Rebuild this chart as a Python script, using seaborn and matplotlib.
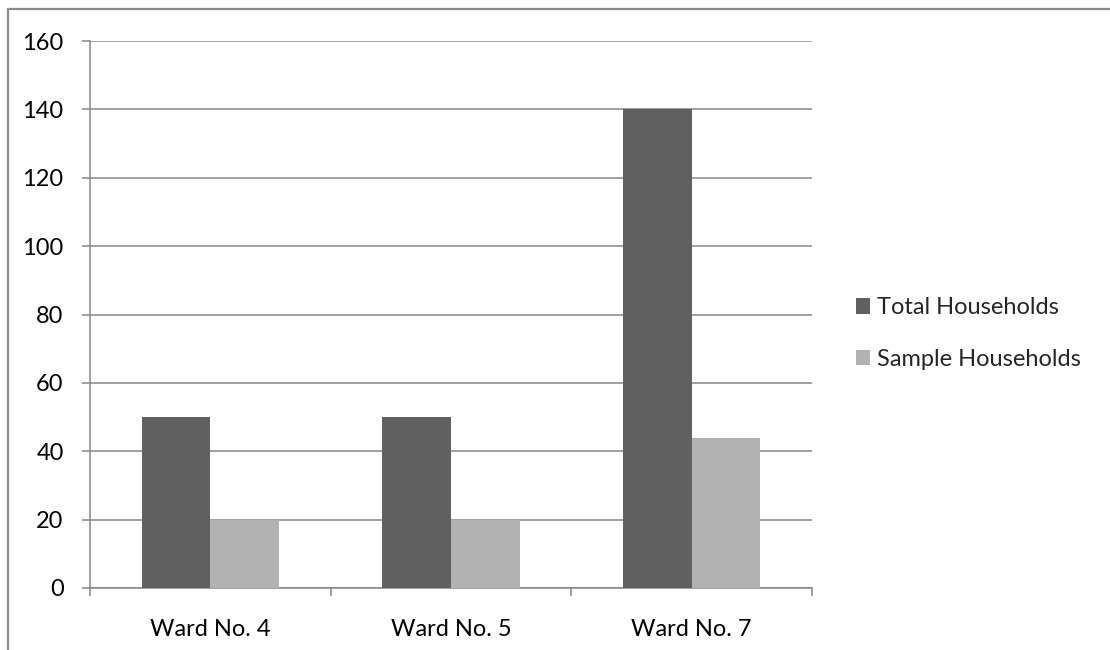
import matplotlib
matplotlib.use("Agg")
import matplotlib.pyplot as plt
from matplotlib.lines import Line2D
import seaborn as sns
import pandas as pd

wards = ["Ward No. 4", "Ward No. 5", "Ward No. 7"]
total_households = [50, 50, 140]
sample_households = [20, 20, 44]
series_names = ["Total Households", "Sample Households"]
y_ticks = [0, 20, 40, 60, 80, 100, 120, 140, 160]

df = pd.DataFrame({
    "ward": wards * 2,
    "series": [series_names[0]] * 3 + [series_names[1]] * 3,
    "value": total_households + sample_households,
})

sns.set_style("white")
plt.rcParams["font.family"] = ["Lato", "DejaVu Sans"]

fs = 17

fig = plt.figure(figsize=(11.1, 6.5), dpi=100)
ax = fig.add_axes([0.0811, 0.0954, 0.6504, 0.8415])

palette = {series_names[0]: "#606060", series_names[1]: "#b2b2b2"}
sns.barplot(data=df, x="ward", y="value", hue="series", palette=palette,
            width=0.57, saturation=1, ax=ax, zorder=3, linewidth=0)

grid_c = "#868686"
ax.set_ylim(0, 160)
ax.set_yticks(y_ticks)
ax.yaxis.grid(True, color=grid_c, linewidth=1.1, zorder=0)
ax.tick_params(axis="y", left=True, length=6, color=grid_c, width=1.1,
               labelsize=fs, pad=13, labelcolor="black")

# category boundaries carry the tick marks; labels sit at category centres
ax.set_xlim(-0.5, 2.5)
ax.set_xticks([-0.5, 0.5, 1.5, 2.5])
ax.set_xticklabels([])
ax.set_xticks([0, 1, 2], minor=True)
ax.set_xticklabels(wards, minor=True)
ax.tick_params(axis="x", which="major", bottom=True, length=6, color=grid_c, width=1.1)
ax.tick_params(axis="x", which="minor", bottom=True, length=0, labelsize=fs,
               pad=22, labelcolor="black")
ax.set_xlabel("")
ax.set_ylabel("")

for side in ("top", "right"):
    ax.spines[side].set_visible(False)
for side in ("left", "bottom"):
    ax.spines[side].set_color(grid_c)
    ax.spines[side].set_linewidth(1.1)

handles, labels = ax.get_legend_handles_labels()
ax.legend(handles, labels, loc="center left", bbox_to_anchor=(1.031, 0.465),
          frameon=False, fontsize=fs, handlelength=0.62, handleheight=0.62,
          handletextpad=0.3, labelspacing=1.3)

# outer chart frame
fig.add_artist(Line2D([0.0072, 1.0], [0.986, 0.986], color="#8c8c8c", linewidth=1.6))
fig.add_artist(Line2D([0.0072, 0.0072], [0.0, 0.986], color="#8c8c8c", linewidth=1.6))

fig.savefig("out.png", dpi=100)
